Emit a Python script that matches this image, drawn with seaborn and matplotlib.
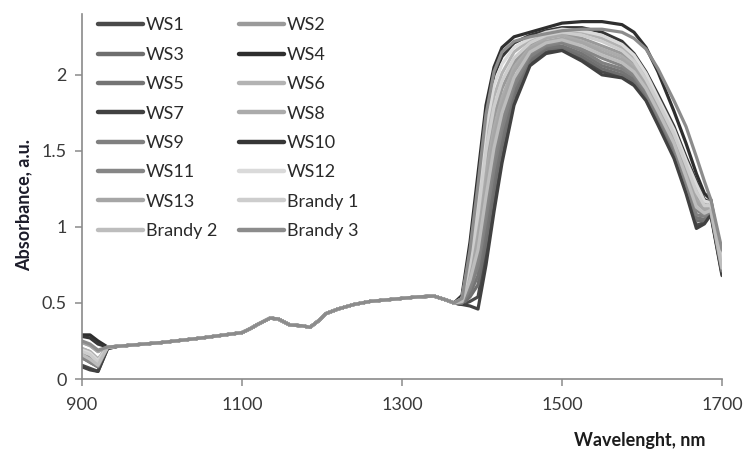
import numpy as np
import pandas as pd
import matplotlib
matplotlib.use("Agg")
import matplotlib.pyplot as plt
import seaborn as sns

# ---------------- data ----------------
series_names = ["WS1", "WS2", "WS3", "WS4", "WS5", "WS6", "WS7", "WS8",
                "WS9", "WS10", "WS11", "WS12", "WS13", "Brandy 1", "Brandy 2", "Brandy 3"]

colors = ["#4a4a4a", "#9a9a9a", "#6e6e6e", "#2e2e2e", "#747474", "#b3b3b3", "#414141", "#ababab",
          "#808080", "#363636", "#868686", "#dadada", "#a6a6a6", "#cdcdcd", "#bdbdbd", "#8c8c8c"]

wl_head = [900, 910, 920, 932]
wl_mid = [945, 1000, 1050, 1100, 1110, 1120, 1135, 1145, 1160, 1175, 1185, 1195, 1205,
          1220, 1240, 1260, 1280, 1300, 1320, 1340, 1355, 1365]
wl_tail = [1375, 1385, 1395, 1405, 1415, 1425, 1440, 1460, 1480, 1500, 1525, 1550, 1575,
           1590, 1605, 1620, 1640, 1655, 1668, 1678, 1686, 1700]

shared_mid = [0.215, 0.24, 0.27, 0.305, 0.33, 0.36, 0.40, 0.395, 0.355, 0.35, 0.34, 0.38, 0.43,
              0.46, 0.49, 0.51, 0.52, 0.53, 0.54, 0.545, 0.52, 0.50]

head_WS1 = [0.09, 0.07, 0.05, 0.20]
head_WS2 = [0.20, 0.18, 0.13, 0.21]
head_WS3 = [0.14, 0.11, 0.08, 0.21]
head_WS4 = [0.29, 0.29, 0.25, 0.21]
head_WS5 = [0.17, 0.14, 0.10, 0.21]
head_WS6 = [0.20, 0.18, 0.13, 0.21]
head_WS7 = [0.08, 0.06, 0.05, 0.20]
head_WS8 = [0.24, 0.22, 0.18, 0.21]
head_WS9 = [0.17, 0.14, 0.10, 0.21]
head_WS10 = [0.28, 0.27, 0.23, 0.21]
head_WS11 = [0.14, 0.11, 0.08, 0.21]
head_WS12 = [0.19, 0.17, 0.12, 0.21]
head_WS13 = [0.24, 0.22, 0.18, 0.21]
head_B1 = [0.18, 0.16, 0.11, 0.21]
head_B2 = [0.16, 0.13, 0.09, 0.21]
head_B3 = [0.25, 0.23, 0.19, 0.21]

tail_WS4 = [0.55, 0.90, 1.35, 1.80, 2.05, 2.18, 2.25, 2.28, 2.31, 2.34, 2.35, 2.35, 2.33,
            2.28, 2.18, 2.02, 1.76, 1.55, 1.35, 1.22, 1.18, 0.78]
tail_B3 = [0.53, 0.85, 1.28, 1.74, 2.02, 2.15, 2.22, 2.25, 2.27, 2.29, 2.30, 2.30, 2.28,
           2.24, 2.17, 2.04, 1.83, 1.66, 1.46, 1.30, 1.18, 0.85]
tail_WS10 = [0.53, 0.84, 1.26, 1.72, 2.00, 2.12, 2.21, 2.26, 2.29, 2.31, 2.31, 2.28, 2.22,
             2.14, 2.02, 1.87, 1.66, 1.46, 1.30, 1.18, 1.16, 0.78]
tail_WS12 = [0.53, 0.81, 1.20, 1.65, 1.93, 2.07, 2.18, 2.24, 2.28, 2.30, 2.29, 2.26, 2.20,
             2.13, 2.01, 1.85, 1.64, 1.44, 1.28, 1.17, 1.16, 0.77]
tail_WS6 = [0.52, 0.78, 1.14, 1.57, 1.86, 2.01, 2.15, 2.23, 2.27, 2.29, 2.28, 2.24, 2.18,
            2.11, 1.99, 1.84, 1.63, 1.42, 1.25, 1.16, 1.15, 0.76]
tail_B1 = [0.52, 0.76, 1.08, 1.50, 1.79, 1.96, 2.11, 2.21, 2.26, 2.28, 2.26, 2.22, 2.16,
           2.09, 1.97, 1.82, 1.61, 1.41, 1.23, 1.14, 1.14, 0.76]
tail_WS2 = [0.52, 0.73, 1.03, 1.42, 1.72, 1.91, 2.08, 2.20, 2.25, 2.27, 2.24, 2.19, 2.14,
            2.07, 1.96, 1.81, 1.59, 1.39, 1.21, 1.13, 1.13, 0.75]
tail_WS8 = [0.51, 0.70, 0.97, 1.35, 1.65, 1.85, 2.05, 2.18, 2.24, 2.26, 2.22, 2.17, 2.12,
            2.06, 1.94, 1.79, 1.58, 1.37, 1.18, 1.12, 1.13, 0.74]
tail_WS13 = [0.51, 0.67, 0.91, 1.27, 1.59, 1.80, 2.02, 2.17, 2.22, 2.24, 2.21, 2.15, 2.10,
             2.04, 1.93, 1.78, 1.56, 1.35, 1.16, 1.11, 1.12, 0.73]
tail_B2 = [0.51, 0.65, 0.85, 1.20, 1.52, 1.75, 1.98, 2.15, 2.21, 2.23, 2.19, 2.13, 2.08,
           2.02, 1.91, 1.76, 1.55, 1.33, 1.13, 1.09, 1.11, 0.73]
tail_WS11 = [0.50, 0.62, 0.79, 1.12, 1.45, 1.69, 1.95, 2.14, 2.20, 2.22, 2.17, 2.11, 2.06,
             2.00, 1.90, 1.75, 1.53, 1.31, 1.11, 1.08, 1.11, 0.72]
tail_WS9 = [0.50, 0.59, 0.74, 1.05, 1.38, 1.64, 1.92, 2.12, 2.19, 2.21, 2.16, 2.08, 2.04,
            1.99, 1.88, 1.73, 1.52, 1.29, 1.08, 1.07, 1.10, 0.71]
tail_WS5 = [0.50, 0.56, 0.68, 0.97, 1.31, 1.58, 1.89, 2.11, 2.18, 2.19, 2.14, 2.06, 2.02,
            1.97, 1.87, 1.71, 1.50, 1.27, 1.06, 1.05, 1.10, 0.70]
tail_WS3 = [0.49, 0.54, 0.62, 0.90, 1.24, 1.53, 1.86, 2.09, 2.17, 2.18, 2.12, 2.04, 2.00,
            1.96, 1.85, 1.70, 1.48, 1.26, 1.04, 1.04, 1.09, 0.70]
tail_WS1 = [0.49, 0.51, 0.54, 0.82, 1.17, 1.47, 1.83, 2.08, 2.15, 2.17, 2.11, 2.02, 1.99,
            1.94, 1.84, 1.69, 1.47, 1.24, 1.01, 1.03, 1.09, 0.69]
tail_WS7 = [0.49, 0.48, 0.46, 0.75, 1.10, 1.42, 1.80, 2.06, 2.14, 2.16, 2.09, 2.00, 1.98,
            1.93, 1.83, 1.67, 1.45, 1.22, 0.99, 1.02, 1.08, 0.68]

heads = [head_WS1, head_WS2, head_WS3, head_WS4, head_WS5, head_WS6, head_WS7, head_WS8,
         head_WS9, head_WS10, head_WS11, head_WS12, head_WS13, head_B1, head_B2, head_B3]
tails = [tail_WS1, tail_WS2, tail_WS3, tail_WS4, tail_WS5, tail_WS6, tail_WS7, tail_WS8,
         tail_WS9, tail_WS10, tail_WS11, tail_WS12, tail_WS13, tail_B1, tail_B2, tail_B3]

y_ticks = [0, 0.5, 1, 1.5, 2]
y_tick_labels = ["0", "0.5", "1", "1.5", "2"]
x_ticks = [900, 1100, 1300, 1500, 1700]

# ---------------- build table ----------------
wl_all = wl_head + wl_mid + wl_tail
rows = []
for name, h, t in zip(series_names, heads, tails):
    vals = h + shared_mid + t
    for w, v in zip(wl_all, vals):
        rows.append({"Wavelength": w, "Absorbance": v, "Sample": name})
df = pd.DataFrame(rows)

# ---------------- plot ----------------
sns.set_theme(style="white")
plt.rcParams["font.family"] = ["Lato", "DejaVu Sans"]

fig = plt.figure(figsize=(7.45, 4.55), dpi=100)
ax = fig.add_axes([82 / 745, (455 - 379) / 455, 640 / 745, 365 / 455])

palette = dict(zip(series_names, colors))
sns.lineplot(data=df, x="Wavelength", y="Absorbance", hue="Sample", hue_order=series_names,
             palette=palette, linewidth=2.3, sort=False, ax=ax, estimator=None,
             solid_joinstyle="round", solid_capstyle="round")

ax.set_xlim(900, 1700)
ax.set_ylim(0, 2.4)
ax.set_xticks(x_ticks)
ax.set_yticks(y_ticks)
ax.set_yticklabels(y_tick_labels)

for s in ["top", "right"]:
    ax.spines[s].set_visible(False)
for s in ["left", "bottom"]:
    ax.spines[s].set_color("#8a8a8a")
    ax.spines[s].set_linewidth(1.2)

ax.tick_params(axis="both", which="major", direction="out", length=5, width=1.1,
               color="#8a8a8a", labelsize=13, labelcolor="#3a3a3a", left=True, bottom=True)
ax.tick_params(axis="x", pad=8)
ax.tick_params(axis="y", pad=6)

ax.set_xlabel("Wavelenght, nm", fontsize=13, fontweight="bold", color="#1c1c1c")
ax.set_ylabel("Absorbance, a.u.", fontsize=13, fontweight="bold", color="#1c1c2a")
ax.xaxis.set_label_coords(0.872, -0.145)
ax.yaxis.set_label_coords(-0.078, 0.477)

# legend in row-major order (two columns)
handles, labels = ax.get_legend_handles_labels()
order = list(range(0, len(labels), 2)) + list(range(1, len(labels), 2))
leg = ax.legend([handles[i] for i in order], [labels[i] for i in order],
                ncol=2, frameon=False, loc="upper left", bbox_to_anchor=(0.0, 1.035),
                fontsize=13, handlelength=2.5, handletextpad=0.15, columnspacing=1.2,
                labelspacing=0.74)
for line in leg.get_lines():
    line.set_linewidth(3.2)
for txt in leg.get_texts():
    txt.set_color("#2a2a2a")

fig.savefig("out.png", dpi=100)
